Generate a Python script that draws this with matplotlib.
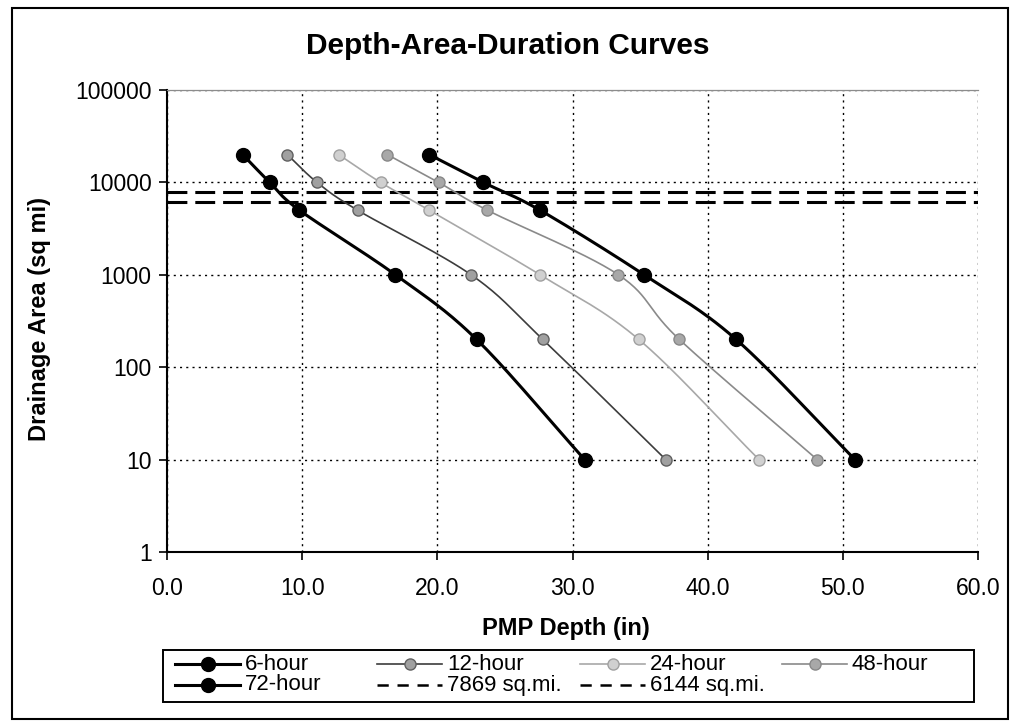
import numpy as np
import matplotlib
matplotlib.use("Agg")
import matplotlib.pyplot as plt
from matplotlib.lines import Line2D
from matplotlib.patches import Rectangle

# Drainage areas (sq mi) shared by every duration curve
areas = [20000, 10000, 5000, 1000, 200, 10]

# PMP depths (in) for each storm duration
depth_6hr = [5.6, 7.6, 9.8, 16.9, 22.9, 30.9]
depth_12hr = [8.9, 11.1, 14.1, 22.5, 27.8, 36.9]
depth_24hr = [12.7, 15.8, 19.4, 27.6, 34.9, 43.8]
depth_48hr = [16.3, 20.1, 23.7, 33.4, 37.9, 48.1]
depth_72hr = [19.4, 23.4, 27.6, 35.3, 42.1, 50.9]

# Reference drainage areas drawn as horizontal dashed lines
ref_areas = [7869, 6144]
ref_labels = ["7869 sq.mi.", "6144 sq.mi."]

x_ticks = [0, 10, 20, 30, 40, 50, 60]
y_ticks = [1, 10, 100, 1000, 10000, 100000]

plt.rcParams["font.family"] = ["Liberation Sans", "DejaVu Sans"]

W, H = 1010, 721


def fx(px):
    return px / W


def fy(py):
    return 1 - py / H


def smooth(x, y, n=30):
    """Catmull-Rom curve through the points, built in (x, log10 y) space."""
    px = np.asarray(x, float)
    py = np.log10(np.asarray(y, float))
    P = np.column_stack([px, py])
    P = np.vstack([P[0] - (P[1] - P[0]), P, P[-1] + (P[-1] - P[-2])])
    out = []
    t = np.linspace(0, 1, n)[:, None]
    for i in range(1, len(P) - 2):
        p0, p1, p2, p3 = P[i - 1], P[i], P[i + 1], P[i + 2]
        seg = 0.5 * ((2 * p1) + (-p0 + p2) * t
                     + (2 * p0 - 5 * p1 + 4 * p2 - p3) * t ** 2
                     + (-p0 + 3 * p1 - 3 * p2 + p3) * t ** 3)
        out.append(seg if i == 1 else seg[1:])
    out = np.vstack(out)
    return out[:, 0], 10 ** out[:, 1]


fig = plt.figure(figsize=(W / 100, H / 100), dpi=100)
ax = fig.add_axes([fx(167), fy(552), fx(978 - 167), (552 - 90) / H])

black_line = dict(color="black", lw=2.2)
black_mark = dict(ms=10, mfc="black", mec="black")
series = [
    ("6-hour", depth_6hr, black_line, black_mark),
    ("12-hour", depth_12hr, dict(color="#3c3c3c", lw=1.2), dict(ms=8, mfc="#a0a0a0", mec="#606060")),
    ("24-hour", depth_24hr, dict(color="#a8a8a8", lw=1.2), dict(ms=8, mfc="#d0d0d0", mec="#a0a0a0")),
    ("48-hour", depth_48hr, dict(color="#8a8a8a", lw=1.2), dict(ms=8, mfc="#a8a8a8", mec="#888888")),
    ("72-hour", depth_72hr, black_line, black_mark),
]

styles = {}
for name, xs, lstyle, mstyle in series:
    sx, sy = smooth(xs, areas)
    ax.plot(sx, sy, zorder=3, **lstyle)
    ax.plot(xs, areas, ls="none", marker="o", zorder=4, **mstyle)
    styles[name] = (lstyle, mstyle)

for val in ref_areas:
    ax.axhline(val, color="black", lw=2.2, dashes=(6.5, 2.6), zorder=2)

ax.set_yscale("log")
ax.set_xlim(0, 60)
ax.set_ylim(1, 100000)
ax.set_xticks(x_ticks)
ax.set_xticklabels([f"{v:.1f}" for v in x_ticks])
ax.set_yticks(y_ticks)
ax.set_yticklabels([str(v) for v in y_ticks])
ax.yaxis.set_minor_locator(matplotlib.ticker.NullLocator())
ax.tick_params(axis="both", labelsize=16.5, length=6, width=1.2, direction="out")
ax.tick_params(axis="x", pad=12)
ax.tick_params(axis="y", pad=5)
ax.grid(True, which="major", color="black", ls=(0, (1.5, 3)), lw=1.0, zorder=1)

ax.spines["right"].set_visible(False)
ax.spines["top"].set_color("#8c8c8c")
ax.spines["top"].set_linewidth(0.9)
for side in ("left", "bottom"):
    ax.spines[side].set_linewidth(1.5)

fig.text(fx(508), fy(46), "Depth-Area-Duration Curves", ha="center", va="center",
         fontsize=21.5, fontweight="bold")
fig.text(fx(40), fy(319), "Drainage Area (sq mi)", ha="center", va="center",
         rotation=90, fontsize=17, fontweight="bold")
fig.text(fx(566), fy(628), "PMP Depth (in)", ha="center", va="center",
         fontsize=17, fontweight="bold")

# Legend: framed box, four equal-width columns, two rows
fig.patches.append(Rectangle((fx(163), fy(702)), fx(974 - 163), (702 - 650) / H,
                             transform=fig.transFigure, fill=False, edgecolor="black",
                             lw=1.4))
col_x = [175, 377, 580, 782]
row_y = [664, 685]
entries = ["6-hour", "12-hour", "24-hour", "48-hour", "72-hour"] + ref_labels
for k, name in enumerate(entries):
    x0 = col_x[k % 4]
    y0 = row_y[k // 4]
    xs = [fx(x0), fx(x0 + 65)]
    ys = [fy(y0), fy(y0)]
    if name in styles:
        lstyle, mstyle = styles[name]
        fig.add_artist(Line2D(xs, ys, transform=fig.transFigure, **lstyle))
        fig.add_artist(Line2D([fx(x0 + 32.5)], [fy(y0)], transform=fig.transFigure,
                              ls="none", marker="o", **mstyle))
    else:
        fig.add_artist(Line2D(xs, ys, transform=fig.transFigure, color="black",
                              lw=1.8, dashes=(4.5, 3.5)))
    fig.text(fx(x0 + 70), fy(y0), name, ha="left", va="center", fontsize=16)

# Chart frame
fig.patches.append(Rectangle((fx(12), fy(719)), fx(1008 - 12), (719 - 8) / H,
                             transform=fig.transFigure, fill=False, edgecolor="black",
                             lw=1.5))

fig.savefig("out.png", dpi=100, facecolor="white")
